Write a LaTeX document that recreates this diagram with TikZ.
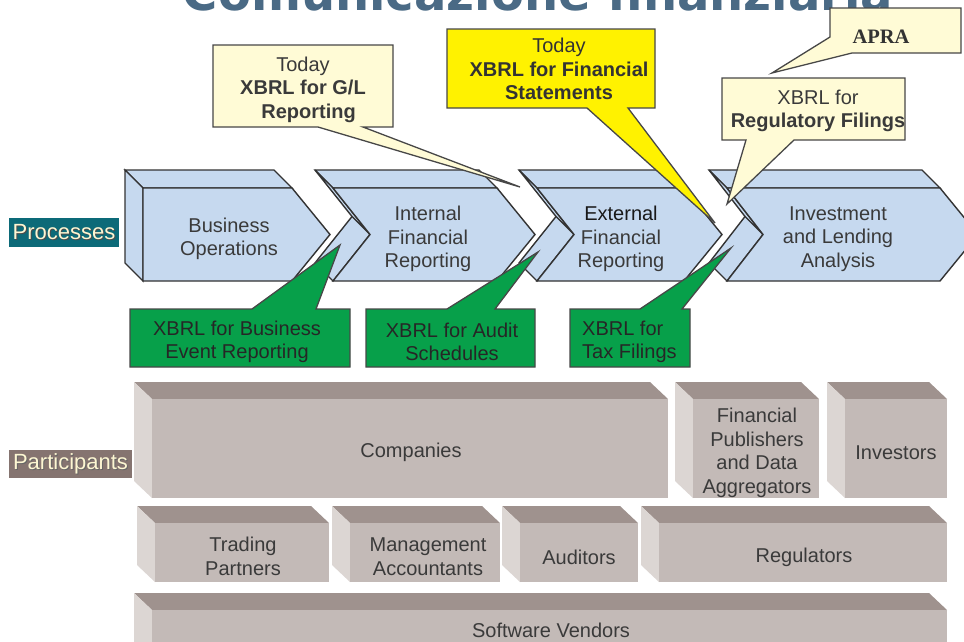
\documentclass[tikz,border=0pt]{standalone}
\usepackage{fontspec}
\setmainfont{Liberation Sans}
\newfontfamily\apraface{Liberation Serif}
\newfontfamily\titleface{DejaVu Sans}
\definecolor{chevfill}{HTML}{C6D9EF}
\definecolor{inkline}{HTML}{333333}
\definecolor{txtgray}{HTML}{3A3A3A}
\definecolor{cream}{HTML}{FFFBD6}
\definecolor{brightyellow}{HTML}{FFF200}
\definecolor{callgreen}{HTML}{07A04A}
\definecolor{boxtop}{HTML}{9F928E}
\definecolor{boxside}{HTML}{DCD6D3}
\definecolor{boxfront}{HTML}{C3BAB7}
\definecolor{procteal}{HTML}{0C6A78}
\definecolor{parttaupe}{HTML}{857470}
\definecolor{labelcream}{HTML}{FDF6D2}
\definecolor{titleblue}{HTML}{4A6A85}

% process chevron: front left x, front right x, notch depth (0 = flat left side)
\newcommand\procchev[3]{%
  \pgfmathsetmacro\xl{#1}\pgfmathsetmacro\xr{#2}\pgfmathsetmacro\nd{#3}%
  \filldraw[chevface] (\xl-18,170) -- (\xr-18,170) -- (\xr,188) -- (\xl,188) -- cycle;
  \ifdim\nd pt=0pt
    \filldraw[chevface] (\xl-18,170) -- (\xl,188) -- (\xl,281) -- (\xl-18,263) -- cycle;
  \else
    \filldraw[chevface] (\xl-18,170) -- (\xl+\nd-18,216.5) -- (\xl+\nd,234.5) -- (\xl,188) -- cycle;
    \filldraw[chevface] (\xl+\nd-18,216.5) -- (\xl-18,263) -- (\xl,281) -- (\xl+\nd,234.5) -- cycle;
  \fi
  \filldraw[chevface] (\xl,188) -- (\xr,188) -- (\xr+38,234.5) -- (\xr,281) -- (\xl,281) -- (\xl+\nd,234.5) -- cycle;
}

% participant block: front face corners (x0,y0) and (x1,y1)
\newcommand\partblock[4]{%
  \fill[boxtop] (#1-18,#2-17) -- (#3-18,#2-17) -- (#3,#2) -- (#1,#2) -- cycle;
  \fill[boxside] (#1-18,#2-17) -- (#1,#2) -- (#1,#4) -- (#1-18,#4-17) -- cycle;
  \fill[boxfront] (#1,#2) rectangle (#3,#4);
}

\begin{document}
\begin{tikzpicture}[x=1pt,y=-1pt,
  chevface/.style={fill=chevfill,draw=inkline,line width=1.4pt,line join=miter},
  bubble/.style={draw=inkline!90,line width=1.3pt,line join=miter},
  proctext/.style={font=\fontsize{20}{23.5}\selectfont,text=txtgray,align=center},
  parttext/.style={font=\fontsize{20}{23.5}\selectfont,text=txtgray,align=center},
  calltext/.style={font=\fontsize{20}{23.5}\selectfont,text=txtgray,align=center},
  greentext/.style={font=\fontsize{20}{23.5}\selectfont,text=black!85,align=center},
  sidelabel/.style={font=\fontsize{22}{24}\selectfont,text=labelcream,inner sep=0pt}]
\useasboundingbox (0,0) rectangle (964,641);
\fill[white] (0,0) rectangle (964,641);

% heading, cut by the page edge
\node[font=\titleface\bfseries\fontsize{48}{48}\selectfont,text=titleblue,anchor=base,inner sep=0pt]
  (heading) at (538,10) {Comunicazione finanziaria};

% process chain
\procchev{143}{292}{0}
\procchev{333}{497}{37}
\procchev{537}{684}{37}
\procchev{727}{940}{36}
\node[proctext] (bizops) at (229,239) {Business\\Operations};
\node[proctext] (internal) at (428,239) {Internal\\Financial\\Reporting};
\node[proctext] (external) at (621,239) {\textcolor{black!90}{External}\\Financial\\Reporting};
\node[proctext] (invest) at (838,239) {Investment\\and Lending\\Analysis};

% row labels
\fill[procteal] (9,218) rectangle (119,247);
\node[sidelabel,text=black!70] at (65,233.5) {Processes};
\node[sidelabel] (proclabel) at (64,232.5) {Processes};
\fill[parttaupe] (9,450) rectangle (132,478);
\node[sidelabel,text=black!60] at (71.5,465) {Participants};
\node[sidelabel] (partlabel) at (70.5,464) {Participants};

% callouts above the chain
\filldraw[bubble,fill=cream] (213,45) -- (393,45) -- (393,127) -- (363,127) -- (520,187) -- (318,127) -- (213,127) -- cycle;
\node[calltext] (glnote) at (303,89.5) {Today\\\textbf{XBRL for G/L}\\\textbf{\ \ Reporting}};

\filldraw[bubble,fill=brightyellow] (447,29) -- (655,29) -- (655,108) -- (628,108) -- (715,223) -- (587,108) -- (447,108) -- cycle;
\node[calltext,text=black!80] (fsnote) at (559,69) {Today\\\textbf{XBRL for Financial}\\\textbf{Statements}};

\filldraw[bubble,fill=cream] (722,78) -- (905,78) -- (905,140) -- (794,140) -- (727,204) -- (746,140) -- (722,140) -- cycle;
\node[calltext] (regnote) at (818,111) {XBRL for\\\textbf{Regulatory Filings}};

\filldraw[bubble,fill=cream] (830,8) -- (961,8) -- (961,53) -- (852,53) -- (772,73) -- (830,37) -- cycle;
\node[font=\apraface\bfseries\fontsize{20.5}{22}\selectfont,text=black!80] (apra) at (881,37) {APRA};

% callouts below the chain
\filldraw[bubble,fill=callgreen] (130,309) -- (252,309) -- (340,245) -- (316,309) -- (350,309) -- (350,367) -- (130,367) -- cycle;
\node[greentext] (bizevent) at (237,342) {XBRL for Business\\Event Reporting};
\filldraw[bubble,fill=callgreen] (366,309) -- (447,309) -- (538,252) -- (495,309) -- (535,309) -- (535,367) -- (366,367) -- cycle;
\node[greentext] (audit) at (452,342) {XBRL for Audit\\Schedules};
\filldraw[bubble,fill=callgreen] (570,309) -- (640,309) -- (731,248) -- (682,309) -- (690,309) -- (690,367) -- (570,367) -- cycle;
\node[greentext,align=left,anchor=west,inner sep=0pt] (tax) at (582,342) {XBRL for\\Tax Filings};

% participants
\partblock{152}{399}{668}{498}
\partblock{693}{399}{819}{498}
\partblock{845}{399}{947}{498}
\partblock{155}{523}{329}{582}
\partblock{350}{523}{500}{582}
\partblock{520}{523}{638}{582}
\partblock{659}{523}{947}{582}
\partblock{152}{610}{947}{660}
\node[parttext] (companies) at (411,452) {Companies};
\node[parttext] (publishers) at (757,453) {Financial\\Publishers\\and Data\\Aggregators};
\node[parttext] (investors) at (896,453) {Investors};
\node[parttext] (trading) at (243,556.5) {Trading\\Partners};
\node[parttext] (mgmt) at (428,556.5) {Management\\Accountants};
\node[parttext] (auditors) at (579,557) {Auditors};
\node[parttext] (regulators) at (804,557) {Regulators};
\node[parttext] (software) at (551,630) {Software Vendors};
\end{tikzpicture}
\end{document}
